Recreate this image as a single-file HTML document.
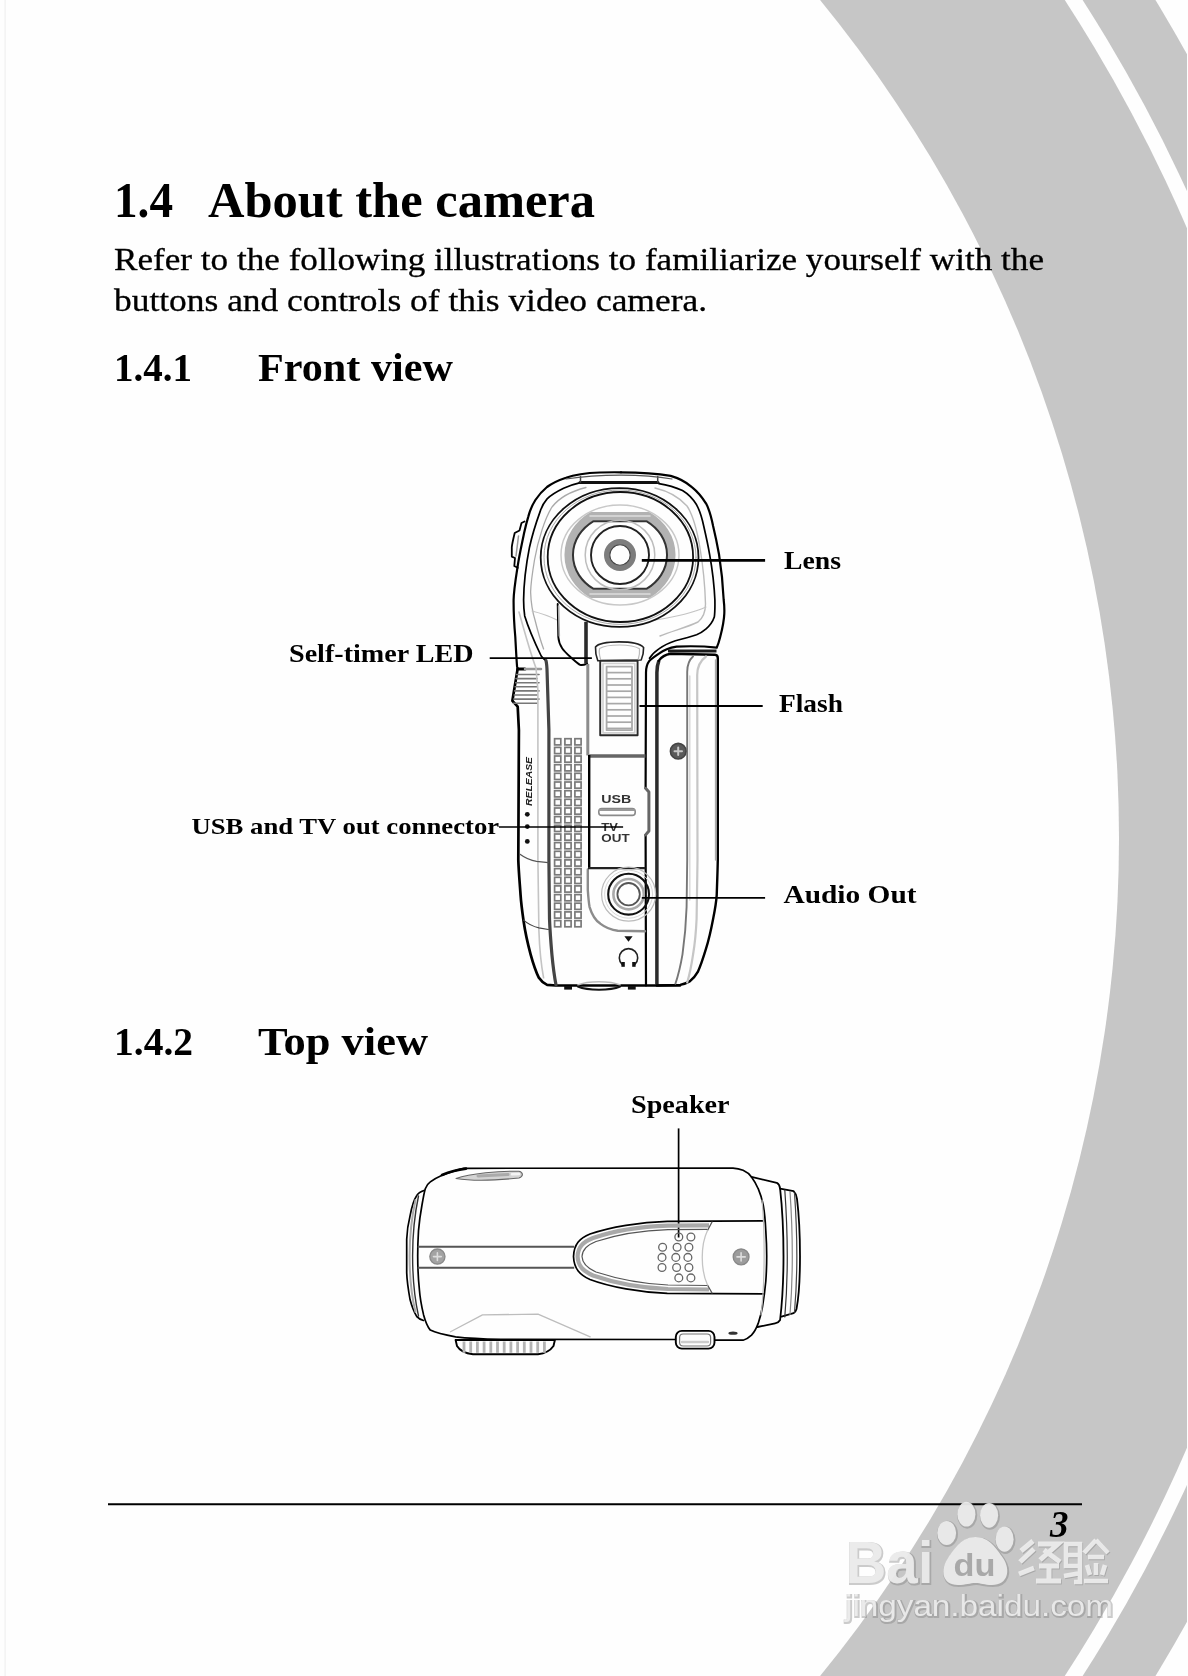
<!DOCTYPE html>
<html>
<head>
<meta charset="utf-8">
<title>1.4 About the camera</title>
<style>
html,body{margin:0;padding:0;background:#fff;}
body{width:1188px;height:1676px;overflow:hidden;position:relative;font-family:"Liberation Serif",serif;}
svg{position:absolute;left:0;top:0;display:block;filter:grayscale(1);}
text{font-family:"Liberation Serif",serif;}
.b{font-weight:bold;}
.ss{font-family:"Liberation Sans",sans-serif;font-weight:bold;}
</style>
</head>
<body>
<svg id="page" width="1188" height="1676" viewBox="0 0 1188 1676">
<!-- BACKGROUND -->
<g id="bg">
<rect x="0" y="0" width="1188" height="1676" fill="#fefefe"/>
<circle cx="-225" cy="838" r="1614.9" fill="#c6c6c5"/>
<circle cx="-225" cy="838" r="1553.1" fill="#fefefe"/>
<circle cx="-225" cy="838" r="1538.1" fill="#c6c6c5"/>
<circle cx="-205" cy="838" r="1324" fill="#fefefe"/>
<rect x="1187" y="0" width="1" height="1676" fill="#fefefe"/>
<rect x="4.5" y="0" width="1.2" height="1676" fill="#efefef"/>
</g>
<!-- TEXT -->
<g id="txt">
<text class="b" x="114" y="217" font-size="51" textLength="59" lengthAdjust="spacingAndGlyphs">1.4</text>
<text class="b" x="208" y="217" font-size="51" textLength="387" lengthAdjust="spacingAndGlyphs">About the camera</text>
<text x="114" y="270.3" font-size="31" stroke="#000" stroke-width="0.3" textLength="930" lengthAdjust="spacingAndGlyphs">Refer to the following illustrations to familiarize yourself with the</text>
<text x="114" y="310.8" font-size="31" stroke="#000" stroke-width="0.3" textLength="593" lengthAdjust="spacingAndGlyphs">buttons and controls of this video camera.</text>
<text class="b" x="114" y="381" font-size="39" textLength="78" lengthAdjust="spacingAndGlyphs">1.4.1</text>
<text class="b" x="258" y="381" font-size="39" textLength="195" lengthAdjust="spacingAndGlyphs">Front view</text>
<text class="b" x="114" y="1054.5" font-size="39" textLength="79" lengthAdjust="spacingAndGlyphs">1.4.2</text>
<text class="b" x="258" y="1054.5" font-size="39" textLength="170" lengthAdjust="spacingAndGlyphs">Top view</text>
<text class="b" x="784" y="569" font-size="25" textLength="57" lengthAdjust="spacingAndGlyphs">Lens</text>
<text class="b" x="779" y="712" font-size="25" textLength="64" lengthAdjust="spacingAndGlyphs">Flash</text>
<text class="b" x="783.5" y="903.3" font-size="25" textLength="133" lengthAdjust="spacingAndGlyphs">Audio Out</text>
<text class="b" x="289" y="661.6" font-size="25" textLength="184.5" lengthAdjust="spacingAndGlyphs">Self-timer LED</text>
<text class="b" x="191.4" y="834" font-size="23.5" textLength="307.7" lengthAdjust="spacingAndGlyphs">USB and TV out connector</text>
<text class="b" x="631" y="1113" font-size="25" textLength="98.6" lengthAdjust="spacingAndGlyphs">Speaker</text>
<text class="b" x="1050" y="1537" font-size="37" font-style="italic">3</text>
</g>
<!-- RULES -->
<g id="rules" stroke="#000" fill="none">
<line x1="108" y1="1504.3" x2="1082" y2="1504.3" stroke-width="2"/>
</g>
<!-- FRONT VIEW CAMERA -->
<g id="front" fill="none" stroke="#000" stroke-width="2" stroke-linecap="round" stroke-linejoin="round">
<path d="M621 472.3 C640 472.3 655 473 670.7 475.9 C680 478.5 686 482 691.9 487.1 C698 492 702 497 706.1 503.6 C710 511 711.5 518 713.1 526 C716 538 717.5 546 719 554.3 C721.5 570 723 585 723.7 600 C724.3 605 724.5 609 724.3 613.6 C724 622 722 630 720.2 637.1 C719 642 718 645 716.7 647.7 C705 646.3 690 646 676.6 646.6 C668 648 663 650.5 658.9 653.6 C654 657 651 659 649.5 660.7 C647 664 646 668 646 672.5 L645.6 788.3" stroke-width="2.2"/>
<path d="M645.6 834.9 L646 985.5" stroke-width="2.2"/>
<path d="M645.6 788.3 L648.9 792 L648.9 831 L645.6 834.9" stroke="#666" stroke-width="3"/>
<path d="M621 472.3 C610 472.2 605 472.3 600 472.5 C585 473 572 475.5 566 477.7 C556 481 551 484 547 487 C541 492 538 496 535.4 500 C531 507 529.5 512 528.3 516.6 C526 524 525 529 523.6 535.4 C521 548 519 557 517.7 566 C515.5 580 513.8 590 513.6 600 C513.5 615 514.5 628 515.3 637 C516 650 516.5 660 517.1 667" stroke-width="2.2"/>
<path d="M517.7 668.4 L512.4 700.8 L517.7 706.7 L518.9 730 L518.3 860 C518.6 870 519.5 880 520.6 895.4 C521 902 522 910 523.6 921.3 C525 931 527 941 530.6 954.3 C533 963 535 970 538.9 977.8 C541 981 543 983 547.1 984.9 L556 985.5 L680 985.5" stroke-width="2.7"/>
<path d="M517.7 669 L525 669" stroke-width="3"/>
<path d="M525 669 L541 669" stroke="#999" stroke-width="2.5"/>
<path d="M516.5 674.5 L539 674.5" stroke="#777" stroke-width="1.6"/>
<path d="M516 678.6 L537 678.6" stroke="#777" stroke-width="1.6"/>
<path d="M515.6 682.7 L539 682.7" stroke="#777" stroke-width="1.6"/>
<path d="M515.1 686.8 L537 686.8" stroke="#777" stroke-width="1.6"/>
<path d="M514.7 690.9 L539 690.9" stroke="#777" stroke-width="1.6"/>
<path d="M514.2 695 L537 695" stroke="#777" stroke-width="1.6"/>
<path d="M513.8 699.1 L539 699.1" stroke="#777" stroke-width="1.6"/>
<path d="M513.4 703.2 L537 703.2" stroke="#777" stroke-width="1.6"/>
<path d="M524.5 521.5 L521.5 523 L519.5 530.5 L514.7 533 C513 540 512 545 511.8 547.2 L511.8 556.6 L515 558 L514.3 566 L517.7 567.8" stroke-width="1.8"/>
<path d="M518.5 536 L516 556" stroke="#999" stroke-width="1.5"/>
<path d="M581.3 482.4 C574 484 569 486 563.6 488.3 C556 492 551 495 547.1 498.9 C543.5 503 541.5 507 540 511.9 C536 523 532 536 529.5 547.2 C526 565 523.8 583 523.6 600 C523.6 606 524 611 524.7 615.9 C529 630 535 643 541.2 656 C543 658.5 544.5 659.8 546 660.7" stroke-width="1.7"/>
<path d="M546 660.7 C546.8 664 547 668 547.1 672.5 L548.9 730 L548.9 860 L549.5 918.9 C550 932 551 944 551.9 954.3 C553 966 554.5 977 556 984.9" stroke="#444" stroke-width="3.2"/>
<path d="M586 487.5 C572 491 559 498 552 507 C545 518 538 540 534.5 560 C532 575 530.8 585 530.6 592 C531 603 532.5 612 535 620 C538 632 541 642 543.6 649" stroke="#aaa" stroke-width="1.3"/>
<path d="M519 612 C524 630 531 655 536 668 L537.9 690 L537.9 860 L538.9 930.7 C539.5 948 541 964 543.6 977.8" stroke="#c4c4c4" stroke-width="1.6"/>
<path d="M532 611 C540 613 549 616 557 620" stroke="#c4c4c4" stroke-width="1.2"/>
<path d="M658.9 483.6 C668 485 676 487.5 682.5 490.6 C689 494.5 693 499 696.6 504.8 C700 511 702 518 703.7 526 C706 536 708 545 709.6 554.3 C711 562 712.2 570 713.1 577.8 C714 586 714.6 593 714.9 600 C715 606 715 612 714.3 617.1 C712.5 622.5 709.5 626 706.1 628.9 C703 631.5 700 633.5 696.6 634.8 C690 637 683 638.8 675.4 640.7 C669 642.8 663.5 645.5 658.9 648.9 C654.5 652 651.5 655 649.5 658.3" stroke-width="1.7"/>
<path d="M655 488 C668 491 679 497 687 506 C693 515 697 530 700 548 C703 566 705 585 705.5 604 C705.5 612 703 618 698 622 C688 627 672 631 660 636" stroke="#bbb" stroke-width="1.4"/>
<path d="M706 607 C695 612 675 617 655 620" stroke="#c4c4c4" stroke-width="1.2"/>
<path d="M580 482.4 L658 482.4" stroke="#111" stroke-width="3"/>
<path d="M580.5 476.5 L580.5 482 M657.7 476.5 L657.7 482" stroke="#444" stroke-width="1.5"/>
<path d="M566 479 C585 476 600 475.2 621 475.2 C640 475.2 655 476 672 479" stroke="#555" stroke-width="1.2"/>
<ellipse cx="619.6" cy="557.5" rx="78.9" ry="69.4" stroke="#111" stroke-width="1.8"/>
<ellipse cx="620.4" cy="557" rx="72.7" ry="65" stroke="#111" stroke-width="1.8"/>
<ellipse cx="620" cy="557.2" rx="76" ry="67.2" stroke="#aaa" stroke-width="1"/>
<ellipse cx="620" cy="555" rx="59" ry="50" stroke="#c8c8c8" stroke-width="1.4"/>
<path d="M591.7 516.3 L648.3 516.3 A51.3 46.4 0 0 1 648.3 593.7 L591.7 593.7 A51.3 46.4 0 0 1 591.7 516.3 Z" stroke="#b2b2b2" stroke-width="8.5"/>
<path d="M593.2 521.3 L646.8 521.3 A47 41 0 0 1 646.8 588.7 L593.2 588.7 A47 41 0 0 1 593.2 521.3 Z" stroke="#333" stroke-width="2"/>
<path d="M590 516 L650 516 M590 594 L650 594" stroke="#ddd" stroke-width="1.5"/>
<circle cx="620" cy="555" r="34.8" stroke="#bdbdbd" stroke-width="1.5"/>
<circle cx="620" cy="555" r="29" stroke="#222" stroke-width="1.9"/>
<circle cx="620" cy="555" r="13.2" stroke="#7d7d7d" stroke-width="5.6"/>
<circle cx="620" cy="555" r="10.2" stroke="#444" stroke-width="1.1"/>
<path d="M557.7 604 L558.3 637 C559 647 565 652 570.7 657.2 C575 661 578 664 580.1 664.8 C583 665.5 585 664.5 587.2 663.6" stroke-width="1.9"/>
<path d="M558.6 606 L559.3 636" stroke="#aaa" stroke-width="1.6"/>
<path d="M586 621.8 L586 663.6" stroke="#2a2a2a" stroke-width="3.6" stroke-linecap="butt"/>
<path d="M587.8 664 L587.8 755.4" stroke="#8c8c8c" stroke-width="3" stroke-linecap="butt"/>
<path d="M587.8 869.4 L587.8 890 C588.5 900 589 904 589.6 907.1 C592 915 595 920 600.2 923.6 C606 928 611 930 617.8 930.7 L645 931.3" stroke="#8c8c8c" stroke-width="2.4"/>
<path d="M597.8 660.7 C596 656 595.3 651 595.5 647 C598 643.7 608 642 619 641.9 C630 641.9 640 643.5 643.6 647.5 C643.7 652 642.5 657 641.2 660 Z" stroke="#222" stroke-width="1.6" fill="#fefefe"/>
<path d="M600.5 659 C599.3 655 599 651 599.6 648.5 C604 645.8 612 645 619.5 645 C628 645 635 646 639.5 648.7 C639.8 652 639.2 656 638.3 659" stroke="#bbb" stroke-width="1.2"/>
<rect x="600.2" y="660.7" width="37.4" height="74.6" stroke="#2a2a2a" stroke-width="1.9" fill="#fefefe"/>
<rect x="603" y="663.5" width="31.8" height="69.4" stroke="#d0d0d0" stroke-width="1.6"/>
<rect x="606.6" y="666.6" width="25.4" height="63.6" stroke="#aaa" stroke-width="1.8"/>
<path d="M607 672.6 L631.6 672.6" stroke="#a8a8a8" stroke-width="1.7" stroke-linecap="butt"/>
<path d="M607 678.8 L631.6 678.8" stroke="#a8a8a8" stroke-width="1.7" stroke-linecap="butt"/>
<path d="M607 685 L631.6 685" stroke="#a8a8a8" stroke-width="1.7" stroke-linecap="butt"/>
<path d="M607 691.2 L631.6 691.2" stroke="#a8a8a8" stroke-width="1.7" stroke-linecap="butt"/>
<path d="M607 697.4 L631.6 697.4" stroke="#a8a8a8" stroke-width="1.7" stroke-linecap="butt"/>
<path d="M607 703.6 L631.6 703.6" stroke="#a8a8a8" stroke-width="1.7" stroke-linecap="butt"/>
<path d="M607 709.8 L631.6 709.8" stroke="#a8a8a8" stroke-width="1.7" stroke-linecap="butt"/>
<path d="M607 716 L631.6 716" stroke="#a8a8a8" stroke-width="1.7" stroke-linecap="butt"/>
<path d="M607 722.2 L631.6 722.2" stroke="#a8a8a8" stroke-width="1.7" stroke-linecap="butt"/>
<path d="M607 728.4 L631.6 728.4" stroke="#a8a8a8" stroke-width="1.7" stroke-linecap="butt"/>
<rect x="554.6" y="738.7" width="6.2" height="6.2" stroke="#7a7a7a" stroke-width="1.7" stroke-linejoin="miter"/>
<rect x="564.9" y="738.7" width="6.2" height="6.2" stroke="#7a7a7a" stroke-width="1.7" stroke-linejoin="miter"/>
<rect x="574.9" y="738.7" width="6.2" height="6.2" stroke="#7a7a7a" stroke-width="1.7" stroke-linejoin="miter"/>
<rect x="554.6" y="747.4" width="6.2" height="6.2" stroke="#7a7a7a" stroke-width="1.7" stroke-linejoin="miter"/>
<rect x="564.9" y="747.4" width="6.2" height="6.2" stroke="#7a7a7a" stroke-width="1.7" stroke-linejoin="miter"/>
<rect x="574.9" y="747.4" width="6.2" height="6.2" stroke="#7a7a7a" stroke-width="1.7" stroke-linejoin="miter"/>
<rect x="554.6" y="756" width="6.2" height="6.2" stroke="#7a7a7a" stroke-width="1.7" stroke-linejoin="miter"/>
<rect x="564.9" y="756" width="6.2" height="6.2" stroke="#7a7a7a" stroke-width="1.7" stroke-linejoin="miter"/>
<rect x="574.9" y="756" width="6.2" height="6.2" stroke="#7a7a7a" stroke-width="1.7" stroke-linejoin="miter"/>
<rect x="554.6" y="764.7" width="6.2" height="6.2" stroke="#7a7a7a" stroke-width="1.7" stroke-linejoin="miter"/>
<rect x="564.9" y="764.7" width="6.2" height="6.2" stroke="#7a7a7a" stroke-width="1.7" stroke-linejoin="miter"/>
<rect x="574.9" y="764.7" width="6.2" height="6.2" stroke="#7a7a7a" stroke-width="1.7" stroke-linejoin="miter"/>
<rect x="554.6" y="773.3" width="6.2" height="6.2" stroke="#7a7a7a" stroke-width="1.7" stroke-linejoin="miter"/>
<rect x="564.9" y="773.3" width="6.2" height="6.2" stroke="#7a7a7a" stroke-width="1.7" stroke-linejoin="miter"/>
<rect x="574.9" y="773.3" width="6.2" height="6.2" stroke="#7a7a7a" stroke-width="1.7" stroke-linejoin="miter"/>
<rect x="554.6" y="782" width="6.2" height="6.2" stroke="#7a7a7a" stroke-width="1.7" stroke-linejoin="miter"/>
<rect x="564.9" y="782" width="6.2" height="6.2" stroke="#7a7a7a" stroke-width="1.7" stroke-linejoin="miter"/>
<rect x="574.9" y="782" width="6.2" height="6.2" stroke="#7a7a7a" stroke-width="1.7" stroke-linejoin="miter"/>
<rect x="554.6" y="790.7" width="6.2" height="6.2" stroke="#7a7a7a" stroke-width="1.7" stroke-linejoin="miter"/>
<rect x="564.9" y="790.7" width="6.2" height="6.2" stroke="#7a7a7a" stroke-width="1.7" stroke-linejoin="miter"/>
<rect x="574.9" y="790.7" width="6.2" height="6.2" stroke="#7a7a7a" stroke-width="1.7" stroke-linejoin="miter"/>
<rect x="554.6" y="799.3" width="6.2" height="6.2" stroke="#7a7a7a" stroke-width="1.7" stroke-linejoin="miter"/>
<rect x="564.9" y="799.3" width="6.2" height="6.2" stroke="#7a7a7a" stroke-width="1.7" stroke-linejoin="miter"/>
<rect x="574.9" y="799.3" width="6.2" height="6.2" stroke="#7a7a7a" stroke-width="1.7" stroke-linejoin="miter"/>
<rect x="554.6" y="808" width="6.2" height="6.2" stroke="#7a7a7a" stroke-width="1.7" stroke-linejoin="miter"/>
<rect x="564.9" y="808" width="6.2" height="6.2" stroke="#7a7a7a" stroke-width="1.7" stroke-linejoin="miter"/>
<rect x="574.9" y="808" width="6.2" height="6.2" stroke="#7a7a7a" stroke-width="1.7" stroke-linejoin="miter"/>
<rect x="554.6" y="816.6" width="6.2" height="6.2" stroke="#7a7a7a" stroke-width="1.7" stroke-linejoin="miter"/>
<rect x="564.9" y="816.6" width="6.2" height="6.2" stroke="#7a7a7a" stroke-width="1.7" stroke-linejoin="miter"/>
<rect x="574.9" y="816.6" width="6.2" height="6.2" stroke="#7a7a7a" stroke-width="1.7" stroke-linejoin="miter"/>
<rect x="554.6" y="825.3" width="6.2" height="6.2" stroke="#7a7a7a" stroke-width="1.7" stroke-linejoin="miter"/>
<rect x="564.9" y="825.3" width="6.2" height="6.2" stroke="#7a7a7a" stroke-width="1.7" stroke-linejoin="miter"/>
<rect x="574.9" y="825.3" width="6.2" height="6.2" stroke="#7a7a7a" stroke-width="1.7" stroke-linejoin="miter"/>
<rect x="554.6" y="834" width="6.2" height="6.2" stroke="#7a7a7a" stroke-width="1.7" stroke-linejoin="miter"/>
<rect x="564.9" y="834" width="6.2" height="6.2" stroke="#7a7a7a" stroke-width="1.7" stroke-linejoin="miter"/>
<rect x="574.9" y="834" width="6.2" height="6.2" stroke="#7a7a7a" stroke-width="1.7" stroke-linejoin="miter"/>
<rect x="554.6" y="842.6" width="6.2" height="6.2" stroke="#7a7a7a" stroke-width="1.7" stroke-linejoin="miter"/>
<rect x="564.9" y="842.6" width="6.2" height="6.2" stroke="#7a7a7a" stroke-width="1.7" stroke-linejoin="miter"/>
<rect x="574.9" y="842.6" width="6.2" height="6.2" stroke="#7a7a7a" stroke-width="1.7" stroke-linejoin="miter"/>
<rect x="554.6" y="851.3" width="6.2" height="6.2" stroke="#7a7a7a" stroke-width="1.7" stroke-linejoin="miter"/>
<rect x="564.9" y="851.3" width="6.2" height="6.2" stroke="#7a7a7a" stroke-width="1.7" stroke-linejoin="miter"/>
<rect x="574.9" y="851.3" width="6.2" height="6.2" stroke="#7a7a7a" stroke-width="1.7" stroke-linejoin="miter"/>
<rect x="554.6" y="859.9" width="6.2" height="6.2" stroke="#7a7a7a" stroke-width="1.7" stroke-linejoin="miter"/>
<rect x="564.9" y="859.9" width="6.2" height="6.2" stroke="#7a7a7a" stroke-width="1.7" stroke-linejoin="miter"/>
<rect x="574.9" y="859.9" width="6.2" height="6.2" stroke="#7a7a7a" stroke-width="1.7" stroke-linejoin="miter"/>
<rect x="554.6" y="868.6" width="6.2" height="6.2" stroke="#7a7a7a" stroke-width="1.7" stroke-linejoin="miter"/>
<rect x="564.9" y="868.6" width="6.2" height="6.2" stroke="#7a7a7a" stroke-width="1.7" stroke-linejoin="miter"/>
<rect x="574.9" y="868.6" width="6.2" height="6.2" stroke="#7a7a7a" stroke-width="1.7" stroke-linejoin="miter"/>
<rect x="554.6" y="877.3" width="6.2" height="6.2" stroke="#7a7a7a" stroke-width="1.7" stroke-linejoin="miter"/>
<rect x="564.9" y="877.3" width="6.2" height="6.2" stroke="#7a7a7a" stroke-width="1.7" stroke-linejoin="miter"/>
<rect x="574.9" y="877.3" width="6.2" height="6.2" stroke="#7a7a7a" stroke-width="1.7" stroke-linejoin="miter"/>
<rect x="554.6" y="885.9" width="6.2" height="6.2" stroke="#7a7a7a" stroke-width="1.7" stroke-linejoin="miter"/>
<rect x="564.9" y="885.9" width="6.2" height="6.2" stroke="#7a7a7a" stroke-width="1.7" stroke-linejoin="miter"/>
<rect x="574.9" y="885.9" width="6.2" height="6.2" stroke="#7a7a7a" stroke-width="1.7" stroke-linejoin="miter"/>
<rect x="554.6" y="894.6" width="6.2" height="6.2" stroke="#7a7a7a" stroke-width="1.7" stroke-linejoin="miter"/>
<rect x="564.9" y="894.6" width="6.2" height="6.2" stroke="#7a7a7a" stroke-width="1.7" stroke-linejoin="miter"/>
<rect x="574.9" y="894.6" width="6.2" height="6.2" stroke="#7a7a7a" stroke-width="1.7" stroke-linejoin="miter"/>
<rect x="554.6" y="903.2" width="6.2" height="6.2" stroke="#7a7a7a" stroke-width="1.7" stroke-linejoin="miter"/>
<rect x="564.9" y="903.2" width="6.2" height="6.2" stroke="#7a7a7a" stroke-width="1.7" stroke-linejoin="miter"/>
<rect x="574.9" y="903.2" width="6.2" height="6.2" stroke="#7a7a7a" stroke-width="1.7" stroke-linejoin="miter"/>
<rect x="554.6" y="911.9" width="6.2" height="6.2" stroke="#7a7a7a" stroke-width="1.7" stroke-linejoin="miter"/>
<rect x="564.9" y="911.9" width="6.2" height="6.2" stroke="#7a7a7a" stroke-width="1.7" stroke-linejoin="miter"/>
<rect x="574.9" y="911.9" width="6.2" height="6.2" stroke="#7a7a7a" stroke-width="1.7" stroke-linejoin="miter"/>
<rect x="554.6" y="920.6" width="6.2" height="6.2" stroke="#7a7a7a" stroke-width="1.7" stroke-linejoin="miter"/>
<rect x="564.9" y="920.6" width="6.2" height="6.2" stroke="#7a7a7a" stroke-width="1.7" stroke-linejoin="miter"/>
<rect x="574.9" y="920.6" width="6.2" height="6.2" stroke="#7a7a7a" stroke-width="1.7" stroke-linejoin="miter"/>
<path d="M589.2 756 L645.4 756" stroke="#666" stroke-width="3.5" stroke-linecap="butt"/>
<path d="M589.2 755 L589.2 868.2" stroke="#000" stroke-width="2.4" stroke-linecap="butt"/>
<path d="M588 868.2 L645.4 868.2" stroke="#222" stroke-width="2.2" stroke-linecap="butt"/>
<rect x="598.8" y="808.6" width="36.4" height="6.8" rx="3" stroke="#8a8a8a" stroke-width="1.6"/>
<path d="M600 810 L634 810" stroke="#999" stroke-width="2"/>
<circle cx="527.3" cy="814.3" r="2.4" fill="#111" stroke="none"/>
<circle cx="527.3" cy="826.6" r="2.4" fill="#111" stroke="none"/>
<circle cx="527.3" cy="841.4" r="2.4" fill="#111" stroke="none"/>
<path d="M523.6 920.1 C528 924 533 926.5 538.9 927.8 L548.3 929.5" stroke="#444" stroke-width="1.2"/>
<path d="M520 854.3 C525 858 531 860.5 536.6 861.4 L548.3 862.6" stroke="#555" stroke-width="1.2"/>
<path d="M656.9 985 L656.9 672.5 C657 666 658 663 658.9 660.7" stroke="#2b2b2b" stroke-width="3.5" stroke-linecap="butt"/>
<path d="M658.9 660.7 C662 656 666 654.5 670.7 653.8 L715 654.8 C716.8 655 717.8 656 717.8 658 L717.8 860 C717.5 875 717 886 716.7 895.4 C716 905 714.5 912 713.1 918.9 C711 930 709 939 706.1 948.4 C703.5 957 701 965 697.8 971.9 C695.5 976 693 979 689.6 981.4 C686 983.5 683 984.5 680.1 984.9 L656.9 985.5" stroke-width="2.4"/>
<path d="M668 651 L716.5 651" stroke="#1a1a1a" stroke-width="3.2" stroke-linecap="butt"/>
<path d="M715.6 660 L715.6 860" stroke="#aaa" stroke-width="1.5"/>
<path d="M693 656.5 C689 660 687.2 665 687.2 672 L687.2 860 L686.6 907 C686 925 684.5 940 682.5 954.3 C680.5 966 678 976 675.4 983.7" stroke="#777" stroke-width="1.9"/>
<path d="M689.8 676 L689.8 900" stroke="#d5d5d5" stroke-width="1.4"/>
<path d="M706 656.5 C700 661 697.2 667 697.2 675 L697.5 860 L696.6 918.9 C696 932 695 943 693.1 954.3 C691.5 965 689.5 975 687.2 982.5" stroke="#c6c6c6" stroke-width="2.2"/>
<circle cx="678.2" cy="751.2" r="7.8" fill="#5a5a5a" stroke="#444" stroke-width="1.6"/>
<path d="M674.5 751.2 L682 751.2 M678.2 747.5 L678.2 755" stroke="#c8c8c8" stroke-width="2"/>
<circle cx="628.6" cy="894.2" r="27" stroke="#bbb" stroke-width="1.2"/>
<circle cx="628.6" cy="894.2" r="24" stroke="#d8d8d8" stroke-width="1"/>
<circle cx="628.6" cy="894.2" r="20.4" stroke="#111" stroke-width="2.1"/>
<circle cx="628.6" cy="894.2" r="15.2" stroke="#aaa" stroke-width="2.6"/>
<circle cx="628.6" cy="894.2" r="11.2" stroke="#555" stroke-width="1.8"/>
<path d="M624.4 936.3 L632.6 936.3 L628.5 941.8 Z" fill="#111" stroke="none"/>
<path d="M622.2 964.5 A9.2 9.2 0 1 1 634.8 964.5" stroke="#222" stroke-width="1.6"/>
<rect x="621.4" y="962" width="3.4" height="4.8" fill="#111" stroke="none"/><rect x="632.2" y="962" width="3.4" height="4.8" fill="#111" stroke="none"/>
<rect x="564.2" y="986" width="7.8" height="3.6" fill="#111" stroke="none"/><rect x="627.9" y="986" width="7.8" height="3.6" fill="#111" stroke="none"/>
<path d="M577.8 985 C588 980.5 610 980.5 620.2 985" stroke="#bbb" stroke-width="1.5"/>
<path d="M577.8 986.5 C588 990.8 610 990.8 620.2 986.5" stroke="#111" stroke-width="2"/>
</g>
<text class="ss" x="601.3" y="802.6" font-size="11.6" textLength="30" lengthAdjust="spacingAndGlyphs" style="fill:#333">USB</text>
<text class="ss" x="601.3" y="830.8" font-size="11.6" textLength="16.5" lengthAdjust="spacingAndGlyphs" style="fill:#333">TV</text>
<text class="ss" x="601.3" y="842.2" font-size="11.6" textLength="28.3" lengthAdjust="spacingAndGlyphs" style="fill:#333">OUT</text>
<text class="ss" transform="translate(531.5 806) rotate(-90)" font-size="8.6" font-style="italic" textLength="49" lengthAdjust="spacingAndGlyphs" style="fill:#222">RELEASE</text>
<g id="leaders" stroke="#000" fill="none" stroke-linecap="butt">
<path d="M641.8 560.4 L765.1 560.4" stroke-width="2.6"/>
<path d="M639.5 706 L762.7 706" stroke-width="1.8"/>
<path d="M641.8 897.9 L765.1 897.9" stroke-width="1.8"/>
<path d="M489.7 658.1 L591.9 658.1" stroke-width="1.7"/>
<path d="M499 827 L623.1 827" stroke-width="1.7"/>
<path d="M678.6 1128.4 L678.6 1237.5" stroke-width="1.7"/>
</g>
<!-- TOP VIEW CAMERA -->
<g id="top" fill="none" stroke="#000" stroke-width="1.7" stroke-linecap="round" stroke-linejoin="round">
<path d="M464 1168.3 L733 1168.1 C737 1168.3 740 1169 743.1 1170.2 C747 1172 749.5 1174 751.5 1176.9 C754.5 1181 756.5 1184.5 758.2 1188.7 C760.5 1194 762 1199 763.3 1205.5 C764.8 1214 765.4 1222 765.8 1230.8 C766.4 1240 766.7 1248 766.7 1256 C766.7 1265 766.4 1273 765.8 1281.3 C765 1290 764 1298 762.5 1306.5 C761.5 1313 760 1318 758.2 1323.4 C756.5 1328 754.5 1332 751.5 1335.1 C749 1337.5 746.5 1339.3 743.1 1340.2 L714.5 1340.2 M675.8 1339.5 L501 1339.3 C485 1339 470 1338.5 455.6 1336.8 C445 1335 436 1333 430.3 1330.1 C427 1326 425 1320 423.6 1314.9 C421.5 1306 420 1298 419.4 1289.7 C418.2 1278 417.7 1267 417.7 1256 C417.7 1247 418 1239 418.5 1230.8 C419.3 1221 420.5 1213 421.9 1205.5 C423 1199 424 1193 425.3 1188.7 C426.5 1185.5 428 1183.5 430.3 1181.9 C434 1179 438 1177 442.1 1175.2 C449 1172.5 456 1170 464 1168.3"/>
<path d="M442 1175 C449 1172 456 1169.8 466 1168.6" stroke-width="2.6"/>
<path d="M424 1190.5 C420 1192 418 1193.5 416.8 1195.4 C413 1201 411.5 1208 410.1 1215.6 C408 1224 407 1231 406.7 1239.2 L406.7 1272.8 C407 1282 408.5 1291 410.1 1299.8 C412 1307 414 1312 416.8 1316.6 C418.5 1318.5 420.5 1319.5 423.5 1320.5"/>
<path d="M418.5 1196 C414.5 1215 412.6 1236 412.6 1256 C412.6 1278 414.5 1298 418.5 1316" stroke="#333" stroke-width="1.4"/>
<path d="M415.5 1200 C411.5 1218 409.6 1237 409.6 1256 C409.6 1276 411.5 1296 415.5 1312" stroke="#aaa" stroke-width="2"/>
<path d="M417.7 1246.8 L574.2 1246.8 M417.7 1267.8 L574.2 1267.8" stroke="#555" stroke-width="2.1" stroke-linecap="butt"/>
<circle cx="437.4" cy="1256.6" r="7.6" fill="#a3a3a3" stroke="#8a8a8a" stroke-width="1.3"/>
<path d="M433.5 1256.6 L441.3 1256.6 M437.4 1252.7 L437.4 1260.5" stroke="#ddd" stroke-width="1.6"/>
<path d="M763.5 1220.9 L667.3 1221.3 C640 1222 610 1227 590 1234 C580 1238 574 1244 573.5 1256.5 C574 1269 580 1275 590 1279.5 C610 1287 640 1292.5 667.3 1293.3 L763.5 1293.9" stroke-width="1.7"/>
<path d="M709 1225.3 L668 1225.6 C642 1226.5 613 1231 593 1238 C583 1242 578 1247 577.6 1256.5 C578 1266 583 1271 593 1275.5 C613 1282.5 642 1288 668 1289 L709 1289.5" stroke="#a9a9a9" stroke-width="4.2" stroke-linecap="butt"/>
<path d="M707 1229.3 L668 1229.7 C644 1230.5 616 1235 596 1241.5 C587 1245 582.3 1249.5 582 1256.5 C582.3 1263.5 587 1268 596 1272 C616 1278.5 644 1284 668 1285 L707 1285.5" stroke="#555" stroke-width="1.2"/>
<path d="M712 1222 L707.5 1230.5 M712 1293 L707.5 1285" stroke="#555" stroke-width="1.3"/>
<path d="M707.5 1230.5 C700.5 1245 700.5 1270 707.5 1285" stroke="#c4c4c4" stroke-width="1.3"/>
<circle cx="678.8" cy="1237" r="3.9" stroke="#666" stroke-width="1.3"/>
<circle cx="690.9" cy="1237" r="3.9" stroke="#666" stroke-width="1.3"/>
<circle cx="662.6" cy="1247.3" r="3.9" stroke="#666" stroke-width="1.3"/>
<circle cx="677.1" cy="1247.3" r="3.9" stroke="#666" stroke-width="1.3"/>
<circle cx="688.9" cy="1247.3" r="3.9" stroke="#666" stroke-width="1.3"/>
<circle cx="662" cy="1257.4" r="3.9" stroke="#666" stroke-width="1.3"/>
<circle cx="675.8" cy="1257.4" r="3.9" stroke="#666" stroke-width="1.3"/>
<circle cx="687.9" cy="1257.4" r="3.9" stroke="#666" stroke-width="1.3"/>
<circle cx="662" cy="1267.5" r="3.9" stroke="#666" stroke-width="1.3"/>
<circle cx="676.6" cy="1267.5" r="3.9" stroke="#666" stroke-width="1.3"/>
<circle cx="688.9" cy="1267.5" r="3.9" stroke="#666" stroke-width="1.3"/>
<circle cx="678.8" cy="1277.9" r="3.9" stroke="#666" stroke-width="1.3"/>
<circle cx="690.9" cy="1277.9" r="3.9" stroke="#666" stroke-width="1.3"/>
<circle cx="741.1" cy="1256.9" r="7.9" fill="#9c9c9c" stroke="#888" stroke-width="1.3"/>
<path d="M737 1256.9 L745.2 1256.9 M741.1 1252.8 L741.1 1261" stroke="#ddd" stroke-width="1.6"/>
<path d="M751.5 1176.9 L776.8 1182.8 C779 1184 779.8 1186 780.1 1188.7 C782.5 1210 783.5 1233 783.5 1256 C783.5 1280 782.5 1300 780.1 1320 C779 1322 777.5 1323 775.1 1323.4 L757.5 1327" stroke-width="1.8"/>
<path d="M780.1 1188.7 L793.6 1191.2 C795.5 1193 796.5 1195.5 797 1198.8 C799 1215 800 1235 800 1256 C800 1275 799 1296 796.5 1309 C795.8 1311.5 795 1312.5 793.6 1313.2 L781.5 1316.6" stroke-width="1.8"/>
<path d="M784.8 1190 C788 1235 788 1280 784.8 1317" stroke="#333" stroke-width="1.2"/>
<path d="M790 1191.5 C793 1235 793 1278 790 1314.5" stroke="#888" stroke-width="1.2"/>
<path d="M794.5 1193 C797.5 1235 797.5 1278 794.5 1312" stroke="#444" stroke-width="1.2"/>
<path d="M762 1200 C765 1230 765 1285 761 1315" stroke="#bbb" stroke-width="1.2"/>
<path d="M456 1178.5 C470 1173.5 500 1170.6 519 1171.3 C523.5 1172.5 523.5 1176.5 519 1178 C500 1180 474 1181.5 456 1178.5 Z" fill="#d4d4d4" stroke="#666" stroke-width="1.1"/>
<path d="M478 1176 L508 1174.6" stroke="#aaa" stroke-width="3"/><path d="M512 1174.2 L519 1174" stroke="#f4f4f4" stroke-width="2.4"/>
<path d="M450.5 1331.8 L482.5 1314.9 L538 1314.1 L590.2 1336.8" stroke="#bdbdbd" stroke-width="1.3"/>
<path d="M455.6 1340 L554.9 1340 L553.5 1346 C550 1351 545 1353.5 538 1354.2 L473 1354.2 C466 1353.5 460 1351 457 1346 Z" fill="#fefefe" stroke-width="1.9"/>
<path d="M464 1341.5 L464 1352.8" stroke="#b4b4b4" stroke-width="2.8" stroke-linecap="butt"/>
<path d="M470.7 1341.5 L470.7 1352.8" stroke="#b4b4b4" stroke-width="2.8" stroke-linecap="butt"/>
<path d="M477.4 1341.5 L477.4 1352.8" stroke="#b4b4b4" stroke-width="2.8" stroke-linecap="butt"/>
<path d="M484.1 1341.5 L484.1 1352.8" stroke="#b4b4b4" stroke-width="2.8" stroke-linecap="butt"/>
<path d="M490.8 1341.5 L490.8 1352.8" stroke="#b4b4b4" stroke-width="2.8" stroke-linecap="butt"/>
<path d="M497.5 1341.5 L497.5 1352.8" stroke="#b4b4b4" stroke-width="2.8" stroke-linecap="butt"/>
<path d="M504.2 1341.5 L504.2 1352.8" stroke="#b4b4b4" stroke-width="2.8" stroke-linecap="butt"/>
<path d="M510.9 1341.5 L510.9 1352.8" stroke="#b4b4b4" stroke-width="2.8" stroke-linecap="butt"/>
<path d="M517.6 1341.5 L517.6 1352.8" stroke="#b4b4b4" stroke-width="2.8" stroke-linecap="butt"/>
<path d="M524.3 1341.5 L524.3 1352.8" stroke="#b4b4b4" stroke-width="2.8" stroke-linecap="butt"/>
<path d="M531 1341.5 L531 1352.8" stroke="#b4b4b4" stroke-width="2.8" stroke-linecap="butt"/>
<path d="M537.7 1341.5 L537.7 1352.8" stroke="#b4b4b4" stroke-width="2.8" stroke-linecap="butt"/>
<path d="M544.4 1341.5 L544.4 1352.8" stroke="#b4b4b4" stroke-width="2.8" stroke-linecap="butt"/>
<rect x="675.8" y="1330.9" width="38.7" height="17.7" rx="6" fill="#fefefe" stroke-width="1.9"/>
<rect x="679.6" y="1334" width="31" height="12" rx="3.5" stroke="#777" stroke-width="1.2"/>
<path d="M682 1342 L708 1342" stroke="#ccc" stroke-width="2.5"/>
<ellipse cx="733" cy="1333.2" rx="4.6" ry="1.6" fill="#333" stroke="none"/>
</g>
<!-- WATERMARK -->
<defs><filter id="wb" x="-5%" y="-10%" width="110%" height="120%"><feGaussianBlur stdDeviation="0.7"/></filter></defs>
<g filter="url(#wb)" transform="translate(0.8 1)" opacity="0.38" style="fill:#7a7a7a;stroke:#7a7a7a" stroke-width="2.2">
<text class="ss" x="845.5" y="1582.5" font-size="60" textLength="88" lengthAdjust="spacingAndGlyphs">Bai</text>
<ellipse cx="946.7" cy="1532.9" rx="9.4" ry="12"/><ellipse cx="966.4" cy="1514.2" rx="9" ry="12.4"/><ellipse cx="989.1" cy="1515.3" rx="9" ry="12.4"/><ellipse cx="1004.6" cy="1539.2" rx="9" ry="12.6"/>
<path d="M975.5 1537 C989 1537 996 1548 1003 1558 C1011 1570 1008 1585 992 1585 C984 1585 981 1583 975.5 1583 C970 1583 966 1585 958 1585 C942 1585 940 1570 948 1558 C955 1548 962 1537 975.5 1537 Z"/>
<path d="M1021 1551 L1033 1541 M1020 1562 L1034 1549 M1019 1574 L1034 1568 M1038 1544 L1058 1544 L1040 1560 M1044 1550 L1060 1562 M1039 1566 L1059 1566 M1049 1566 L1049 1581 M1036 1581 L1061 1581" fill="none" stroke-width="5" stroke-linecap="butt"/>
<path d="M1066 1544 L1080 1544 L1080 1566 L1066 1566 Z M1066 1555 L1080 1555 M1064 1576 L1081 1573 M1080 1566 L1080 1582 L1074 1582 M1096 1540 L1084 1553 M1096 1540 L1108 1553 M1088 1557 L1104 1557 M1087 1565 L1090 1575 M1096 1563 L1096 1575 M1105 1565 L1102 1575 M1084 1581 L1108 1581" fill="none" stroke-width="4.6" stroke-linecap="butt"/>
<text x="845" y="1616.3" font-size="29.5" textLength="268" lengthAdjust="spacingAndGlyphs" style="font-family:'Liberation Sans',sans-serif">jingyan.baidu.com</text>
</g>
<g filter="url(#wb)" opacity="0.92" style="fill:#eeeeee;stroke:#eeeeee" stroke-width="0">
<text class="ss" x="845.5" y="1582.5" font-size="60" textLength="88" lengthAdjust="spacingAndGlyphs">Bai</text>
<ellipse cx="946.7" cy="1532.9" rx="9.4" ry="12"/><ellipse cx="966.4" cy="1514.2" rx="9" ry="12.4"/><ellipse cx="989.1" cy="1515.3" rx="9" ry="12.4"/><ellipse cx="1004.6" cy="1539.2" rx="9" ry="12.6"/>
<path d="M975.5 1537 C989 1537 996 1548 1003 1558 C1011 1570 1008 1585 992 1585 C984 1585 981 1583 975.5 1583 C970 1583 966 1585 958 1585 C942 1585 940 1570 948 1558 C955 1548 962 1537 975.5 1537 Z"/>
<path d="M1021 1551 L1033 1541 M1020 1562 L1034 1549 M1019 1574 L1034 1568 M1038 1544 L1058 1544 L1040 1560 M1044 1550 L1060 1562 M1039 1566 L1059 1566 M1049 1566 L1049 1581 M1036 1581 L1061 1581" fill="none" stroke-width="5" stroke-linecap="butt"/>
<path d="M1066 1544 L1080 1544 L1080 1566 L1066 1566 Z M1066 1555 L1080 1555 M1064 1576 L1081 1573 M1080 1566 L1080 1582 L1074 1582 M1096 1540 L1084 1553 M1096 1540 L1108 1553 M1088 1557 L1104 1557 M1087 1565 L1090 1575 M1096 1563 L1096 1575 M1105 1565 L1102 1575 M1084 1581 L1108 1581" fill="none" stroke-width="4.6" stroke-linecap="butt"/>
<text x="845" y="1616.3" font-size="29.5" textLength="268" lengthAdjust="spacingAndGlyphs" style="font-family:'Liberation Sans',sans-serif">jingyan.baidu.com</text>
</g>
<text class="ss" x="953.5" y="1576" font-size="31" textLength="42" lengthAdjust="spacingAndGlyphs" style="fill:#a9a9a9" filter="url(#wb)">du</text>
</svg>
</body>
</html>
